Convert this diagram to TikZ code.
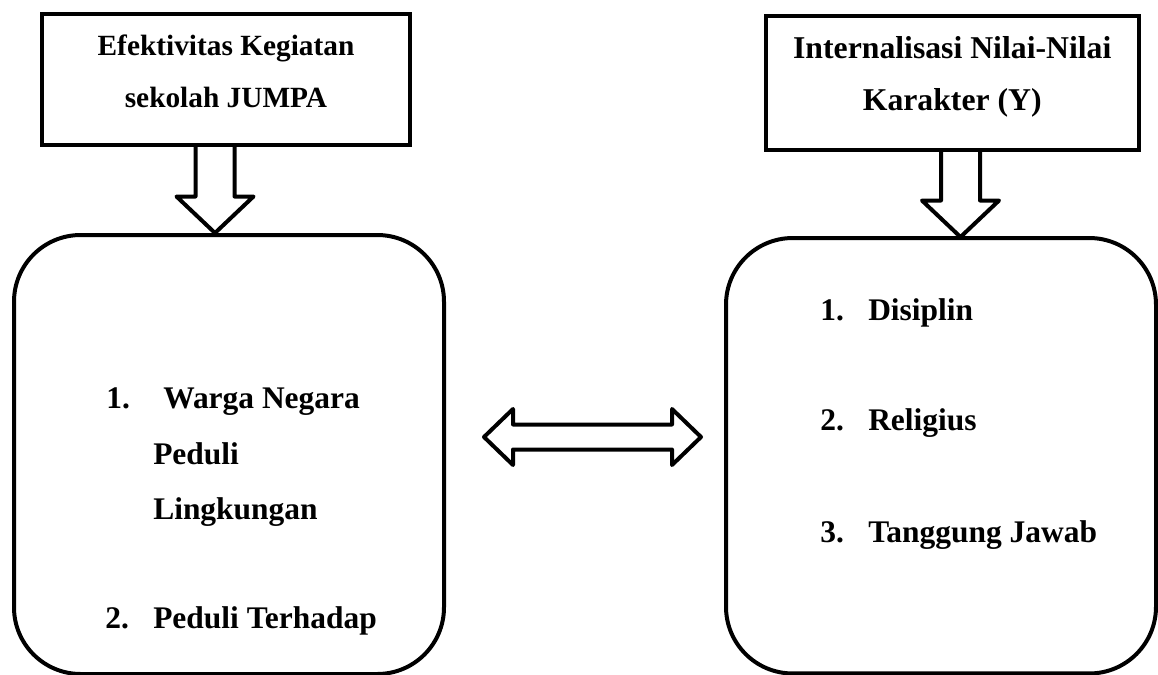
\documentclass[tikz,border=0pt]{standalone}
\usepackage{fontspec}
\setmainfont{Liberation Serif}
\usetikzlibrary{calc,positioning}

\begin{document}
\begin{tikzpicture}
  [
    x=0.75pt, y=-0.75pt,
    Head/.style={rectangle, draw=black, line width=3pt, outer sep=0pt, inner sep=0pt, align=center},
    Panel/.style={rectangle, draw=black, line width=3pt, rounded corners=50pt, outer sep=0pt, minimum width=322.5pt},
    Item/.style={anchor=base west, inner sep=0pt, font=\fontsize{23.6}{28}\selectfont\bfseries},
    Block/.style={draw=black, line width=3pt, line join=round}
  ]
  \useasboundingbox (0,0) rectangle (1158,675);

  % Nodes (x, y) in pixels
  \node[Head, minimum width=276.4pt, minimum height=98.25pt, text depth=12.75pt,
        font=\fontsize{22}{39}\selectfont\bfseries] (efek) at (226,79.5)
        {Efektivitas Kegiatan\\sekolah JUMPA};
  \node[Head, minimum width=280.1pt, minimum height=100.5pt, text depth=14.6pt,
        font=\fontsize{23.8}{39}\selectfont\bfseries] (inter) at (952.25,83)
        {Internalisasi Nilai-Nilai\\Karakter (Y)};
  \node[Panel, minimum height=329.25pt] (lbox) at (229,454.5) {};
  \node[Panel, minimum height=326.6pt] (rbox) at (941,455.75) {};

  % Left list
  \node[Item] (w1) at (106,408) {1.};
  \node[Item] (w1a) at (163,408) {Warga Negara};
  \node[Item] (w1b) at (153,464) {Peduli};
  \node[Item] (w1c) at (153,519) {Lingkungan};
  \node[Item] (w2) at (105,628) {2.};
  \node[Item] (w2a) at (153,628) {Peduli Terhadap};

  % Right list
  \node[Item] (k1) at (820,320) {1.};
  \node[Item] (k1a) at (868,320) {Disiplin};
  \node[Item] (k2) at (820,430) {2.};
  \node[Item] (k2a) at (868,430) {Religius};
  \node[Item] (k3) at (820,542) {3.};
  \node[Item] (k3a) at (868,542) {Tanggung Jawab};

  % Arrow ends
  \coordinate (ltop) at ($(efek.south)+(-11,0)$);
  \coordinate (ltip) at ($(lbox.north -| ltop)+(0,-2)$);
  \coordinate (rtop) at ($(inter.south)+(8.25,0)$);
  \coordinate (rtip) at ($(rbox.north -| rtop)+(0,-1)$);
  \coordinate (dl) at ($(lbox.east)+(40,-17.5)$);
  \coordinate (dr) at ($(rbox.west)+(-25,-18.75)$);

  % Lines
  % efek -> left panel
  \draw[Block] ($(ltop)+(-19.5,0)$) -- ($(ltip)+(-19.5,-36.5)$) -- ($(ltip)+(-38.5,-36.5)$)
    -- (ltip) -- ($(ltip)+(38.5,-36.5)$) -- ($(ltip)+(19.5,-36.5)$) -- ($(ltop)+(19.5,0)$);
  % inter -> right panel
  \draw[Block] ($(rtop)+(-19.5,0)$) -- ($(rtip)+(-19.5,-36.5)$) -- ($(rtip)+(-38.5,-36.5)$)
    -- (rtip) -- ($(rtip)+(38.5,-36.5)$) -- ($(rtip)+(19.5,-36.5)$) -- ($(rtop)+(19.5,0)$);
  % left panel <-> right panel
  \draw[Block] (dl) -- ++(29,-28) -- ++(0,15.5) -- ($(dr)+(-29,-12.5)$) -- ++(0,-15.5)
    -- (dr) -- ++(-29,28) -- ++(0,-15.5) -- ($(dl)+(29,12.5)$) -- ++(0,15.5) -- cycle;

\end{tikzpicture}
\end{document}
